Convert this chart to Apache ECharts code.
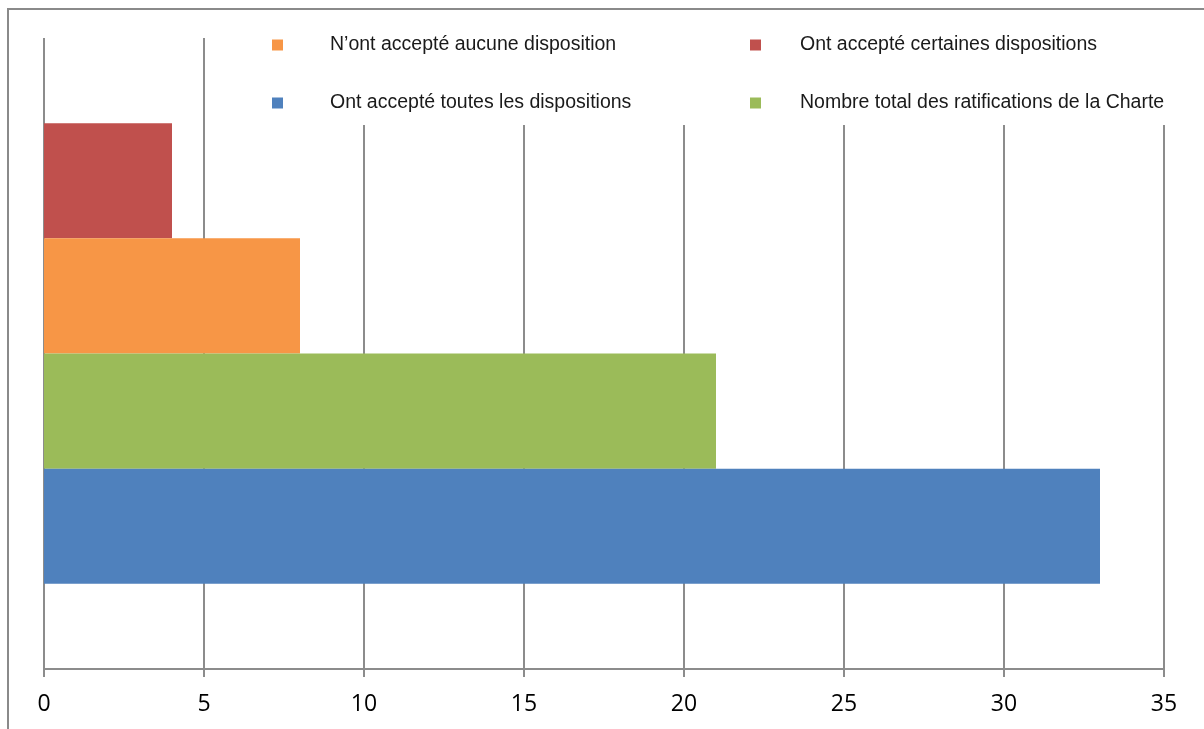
<!DOCTYPE html>
<html>
<head>
<meta charset="utf-8">
<script src="https://cdn.jsdelivr.net/npm/echarts@6/dist/echarts.min.js"></script>
<style>
html,body{margin:0;padding:0;background:#fff;}
#c{width:1204px;height:729px;}
</style>
</head>
<body>
<div id="c"></div>
<script>
var categories = [''];
var seriesNames = ['Ont accepté certaines dispositions', "N’ont accepté aucune disposition", 'Nombre total des ratifications de la Charte', 'Ont accepté toutes les dispositions'];
var seriesValues = [[4], [8], [21], [33]];
var seriesColors = ['#C0504D', '#F79646', '#9BBB59', '#4F81BD'];
var xTicks = [0, 5, 10, 15, 20, 25, 30, 35];

var chart = echarts.init(document.getElementById('c'));
var legendPos = [
  {name: seriesNames[1], left: 272, top: 35, gap: 42, pb: 10},
  {name: seriesNames[0], left: 750, top: 35, gap: 34, pb: 10},
  {name: seriesNames[3], left: 272, top: 93, gap: 42, pb: 12},
  {name: seriesNames[2], left: 750, top: 93, gap: 34, pb: 12}
];
var legends = legendPos.map(function (p) {
  return {
    data: [p.name], left: p.left, top: p.top, orient: 'horizontal', padding: 0,
    icon: 'rect', itemWidth: 11, itemHeight: 11, selectedMode: false,
    textStyle: {fontFamily: 'Liberation Sans, Arial', fontSize: 19.5, color: '#1a1a1a', padding: [0, 0, p.pb, p.gap]}
  };
});
var series = seriesNames.map(function (n, i) {
  return {
    name: n, type: 'bar', data: seriesValues[i],
    itemStyle: {color: seriesColors[i]},
    barGap: '0%', barCategoryGap: '27%',
    emphasis: {disabled: true}
  };
});
chart.setOption({
  animation: false,
  graphic: [
    {type: 'rect', shape: {x: 8, y: 9, width: 1300, height: 1000}, style: {fill: 'none', stroke: '#8a8a8a', lineWidth: 2}, z: 0},
    {type: 'rect', shape: {x: 250, y: 28, width: 940, height: 97}, style: {fill: '#fff'}, z: 3}
  ],
  legend: legends,
  grid: {left: 44, right: 40, top: 38, bottom: 60, containLabel: false},
  xAxis: {
    type: 'value', min: xTicks[0], max: xTicks[xTicks.length - 1], interval: 5,
    axisLine: {show: true, lineStyle: {color: '#8c8c8c', width: 2}},
    axisTick: {show: true, length: 8, lineStyle: {color: '#8c8c8c', width: 2}},
    axisLabel: {margin: 24, fontFamily: 'Open Sans, Lato, sans-serif', fontSize: 23, color: '#000'},
    splitLine: {show: true, lineStyle: {color: '#8c8c8c', width: 2}}
  },
  yAxis: {
    type: 'category', data: categories,
    axisLine: {show: false}, axisTick: {show: false}, axisLabel: {show: false}
  },
  series: series
});
</script>
</body>
</html>
